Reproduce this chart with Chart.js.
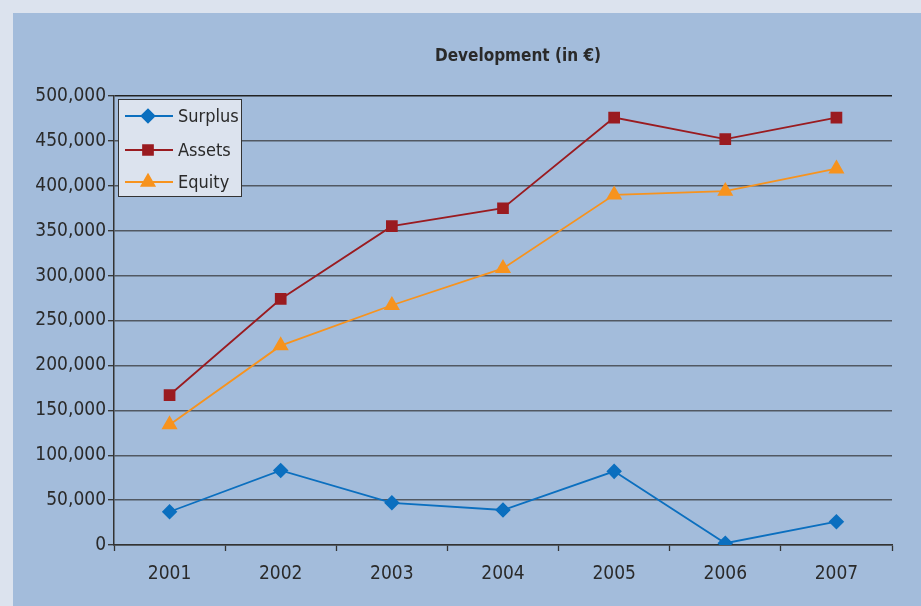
<!DOCTYPE html>
<html>
<head>
<meta charset="utf-8">
<script src="https://cdn.jsdelivr.net/npm/chart.js@4"></script>
<style>
  html, body { margin: 0; padding: 0; background: #dce3ee; }
  #panel {
    position: absolute; left: 13px; top: 13px;
    width: 908px; height: 593px; background: #a3bcdb;
  }
</style>
</head>
<body>
<div id="panel"><canvas id="devChart"></canvas></div>
<script>
// ── Data ─────────────────────────────────────────
const years = ['2001', '2002', '2003', '2004', '2005', '2006', '2007'];
const surplus = [37000, 83000, 47000, 39000, 82000, 2000, 26000];
const assets = [167000, 274000, 355000, 375000, 476000, 452000, 476000];
const equity = [134000, 222000, 267000, 308000, 390000, 394000, 419000];
const seriesNames = ['Surplus', 'Assets', 'Equity'];
const chartTitle = 'Development (in €)';

const FONT = "'Liberation Sans Narrow', 'DejaVu Sans Condensed', sans-serif";
const TEXT = '#2a2a2a';

// ── Title + legend drawn on the canvas ────────────
const decorations = {
    id: 'decorations',
    afterDraw(chart) {
        const ctx = chart.ctx;
        ctx.save();
        ctx.fillStyle = TEXT;
        ctx.font = "bold 17px " + FONT;
        ctx.textAlign = 'center';
        ctx.textBaseline = 'middle';
        ctx.fillText(chartTitle, 505, 44);

        // legend box
        const bx = 105, by = 86, bw = 123, bh = 97;
        ctx.fillStyle = '#dce3ee';
        ctx.fillRect(bx, by, bw, bh);
        ctx.strokeStyle = '#333';
        ctx.lineWidth = 1;
        ctx.strokeRect(bx + 0.5, by + 0.5, bw, bh);

        const rows = [103, 137, 169];
        chart.data.datasets.forEach((ds, i) => {
            const y = rows[i];
            ctx.strokeStyle = ds.borderColor;
            ctx.lineWidth = ds.borderWidth;
            ctx.beginPath();
            ctx.moveTo(112, y);
            ctx.lineTo(160, y);
            ctx.stroke();
            ctx.fillStyle = ds.backgroundColor;
            Chart.helpers.drawPoint(ctx, {
                pointStyle: ds.pointStyle, radius: ds.pointRadius, rotation: 0, borderWidth: 1
            }, 135, y);
            ctx.fillStyle = TEXT;
            ctx.font = "18px " + FONT;
            ctx.textAlign = 'left';
            ctx.fillText(ds.label, 165, y + 1);
        });
        ctx.restore();
    }
};

new Chart(document.getElementById('devChart'), {
    type: 'line',
    data: {
        labels: years,
        datasets: [
            {
                label: seriesNames[0],
                data: surplus,
                borderColor: '#0b6fbf',
                backgroundColor: '#0b6fbf',
                borderWidth: 1.8,
                pointStyle: 'rectRot',
                pointRadius: 6.5,
                tension: 0,
            },
            {
                label: seriesNames[1],
                data: assets,
                borderColor: '#9a1b20',
                backgroundColor: '#9a1b20',
                borderWidth: 1.8,
                pointStyle: 'rect',
                pointRadius: 7,
                tension: 0,
            },
            {
                label: seriesNames[2],
                data: equity,
                borderColor: '#f7931e',
                backgroundColor: '#f7931e',
                borderWidth: 1.8,
                pointStyle: 'triangle',
                pointRadius: 7.5,
                tension: 0,
            }
        ]
    },
    options: {
        responsive: true,
        maintainAspectRatio: false,
        animation: false,
        layout: { padding: { top: 83, right: 29, left: 0, bottom: 0 } },
        plugins: {
            legend: { display: false },
            title: { display: false },
            tooltip: { enabled: false }
        },
        scales: {
            x: {
                offset: true,
                grid: {
                    offset: true,
                    drawOnChartArea: false,
                    tickLength: 6,
                    tickColor: '#333',
                    tickWidth: 1.3
                },
                border: { color: '#333', width: 1.5 },
                ticks: {
                    color: TEXT,
                    font: { family: FONT, size: 19 },
                    padding: 12,
                    maxRotation: 0
                },
                afterFit: s => { s.height = 61; }
            },
            y: {
                min: 0,
                max: 500000,
                grid: {
                    color: c => c.tick && c.tick.value === 500000 ? '#222' : '#515862',
                    lineWidth: 1.4,
                    tickLength: 6,
                    tickColor: '#333',
                    tickWidth: 1.3
                },
                border: { color: '#333', width: 1.5 },
                ticks: {
                    stepSize: 50000,
                    color: TEXT,
                    font: { family: FONT, size: 19 },
                    padding: 2,
                    callback: v => v.toLocaleString('en-US')
                },
                afterFit: s => { s.width = 101; }
            }
        }
    },
    plugins: [decorations]
});
</script>
</body>
</html>
